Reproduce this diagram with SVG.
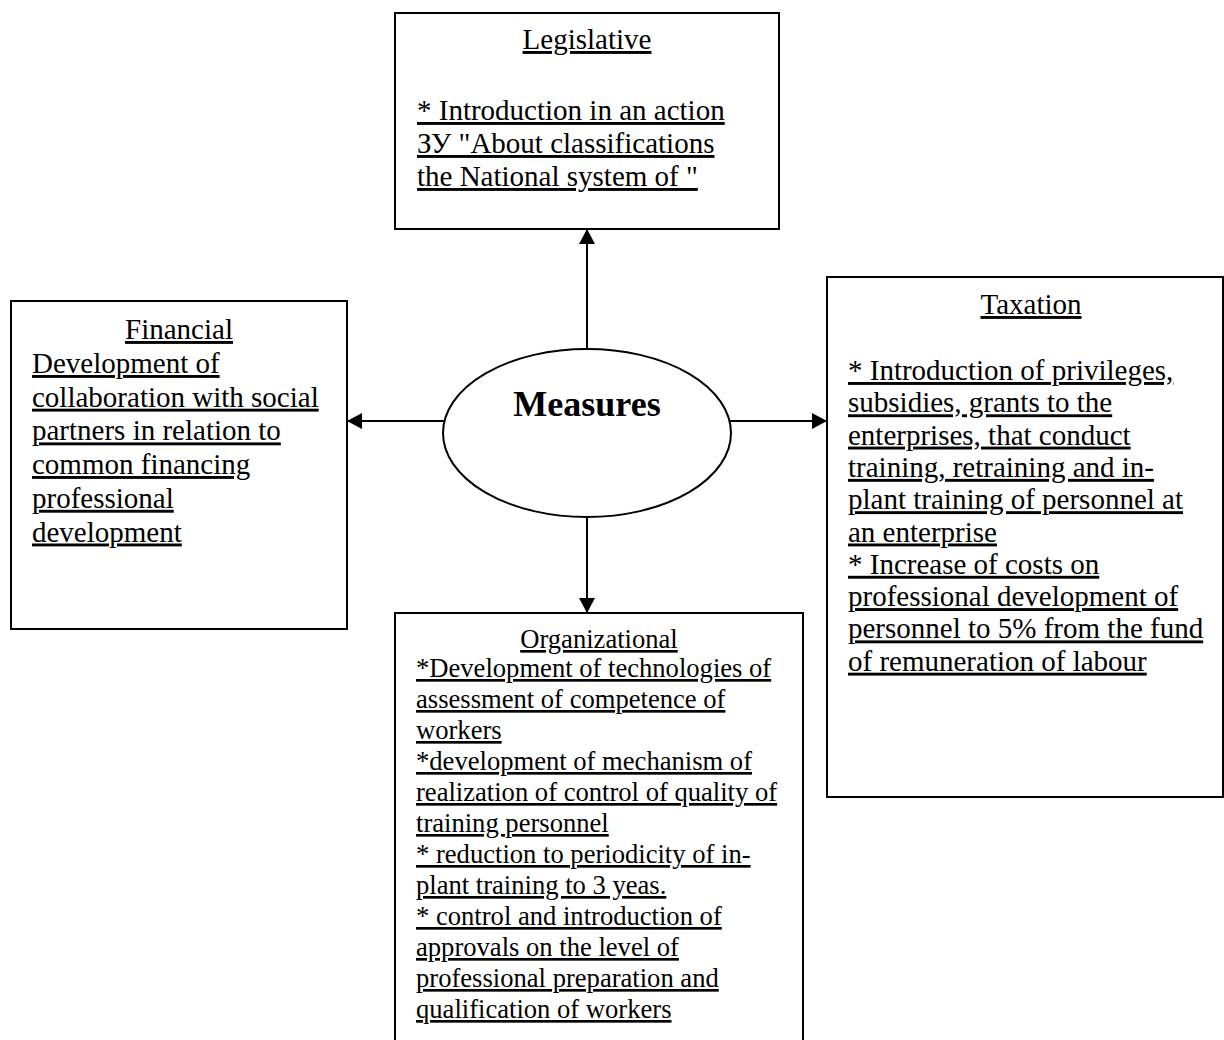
<svg xmlns="http://www.w3.org/2000/svg" width="1224" height="1040" viewBox="0 0 1224 1040">
<style>
.box{fill:#fff;stroke:#000;stroke-width:2}
.t{font-family:"Liberation Serif","Times New Roman",serif;fill:#000;text-decoration:underline}
.a{font-size:29px}
.o{font-size:26.6px}
.c{text-anchor:middle}
.m{font-family:"Liberation Serif","Times New Roman",serif;font-weight:bold;font-size:36px;text-anchor:middle;fill:#000}
.ln{stroke:#000;stroke-width:2;fill:none;marker-end:url(#ah)}
</style>
<defs>
<marker id="ah" markerUnits="userSpaceOnUse" markerWidth="16" markerHeight="16" refX="15" refY="8" orient="auto" viewBox="0 0 16 16">
<path d="M0,0 L15,8 L0,16 z" fill="#000"/>
</marker>
</defs>
<rect width="1224" height="1040" fill="#fff"/>
<g id="connectors">
<path class="ln" d="M587,349 L587,229"/>
<path class="ln" d="M444.5,421 L347,421"/>
<path class="ln" d="M729.5,421 L827,421"/>
<path class="ln" d="M587,517 L587,613"/>
</g>
<g id="legislative">
<rect class="box" x="395" y="13" width="384" height="216"/>
<text class="t a c" x="587" y="49">Legislative</text>
<text class="t a" x="417" y="120">* Introduction in an action</text>
<text class="t a" x="417" y="153">ЗУ "About classifications</text>
<text class="t a" x="417" y="186">the National system of "</text>
</g>
<g id="financial">
<rect class="box" x="11" y="301" width="336" height="328"/>
<text class="t a c" x="179" y="339">Financial</text>
<text class="t a" x="32" y="373">Development of</text>
<text class="t a" x="32" y="406.7">collaboration with social</text>
<text class="t a" x="32" y="440.4">partners in relation to</text>
<text class="t a" x="32" y="474">common financing</text>
<text class="t a" x="32" y="507.8">professional</text>
<text class="t a" x="32" y="541.5">development</text>
</g>
<g id="taxation">
<rect class="box" x="827" y="277" width="396" height="520"/>
<text class="t a c" x="1031" y="314">Taxation</text>
<text class="t a" x="848" y="380">* Introduction of privileges,</text>
<text class="t a" x="848" y="412.3">subsidies, grants to the</text>
<text class="t a" x="848" y="444.6">enterprises, that conduct</text>
<text class="t a" x="848" y="476.9">training, retraining and in-</text>
<text class="t a" x="848" y="509.2">plant training of personnel at</text>
<text class="t a" x="848" y="541.5">an enterprise</text>
<text class="t a" x="848" y="573.8">* Increase of costs on</text>
<text class="t a" x="848" y="606.1">professional development of</text>
<text class="t a" x="848" y="638.4">personnel to 5% from the fund</text>
<text class="t a" x="848" y="670.7">of remuneration of labour</text>
</g>
<g id="measures">
<ellipse class="box" cx="587" cy="433" rx="144" ry="84"/>
<text class="m" x="587" y="416">Measures</text>
</g>
<g id="organizational">
<rect class="box" x="395" y="613" width="408" height="440"/>
<text class="t o c" x="599" y="648">Organizational</text>
<text class="t o" x="416" y="677">*Development of technologies of</text>
<text class="t o" x="416" y="708">assessment of competence of</text>
<text class="t o" x="416" y="739">workers</text>
<text class="t o" x="416" y="770">*development of mechanism of</text>
<text class="t o" x="416" y="801">realization of control of quality of</text>
<text class="t o" x="416" y="832">training personnel</text>
<text class="t o" x="416" y="863">* reduction to periodicity of in-</text>
<text class="t o" x="416" y="894">plant training to 3 yeas.</text>
<text class="t o" x="416" y="925">* control and introduction of</text>
<text class="t o" x="416" y="956">approvals on the level of</text>
<text class="t o" x="416" y="987">professional preparation and</text>
<text class="t o" x="416" y="1018">qualification of workers</text>
</g>
</svg>
